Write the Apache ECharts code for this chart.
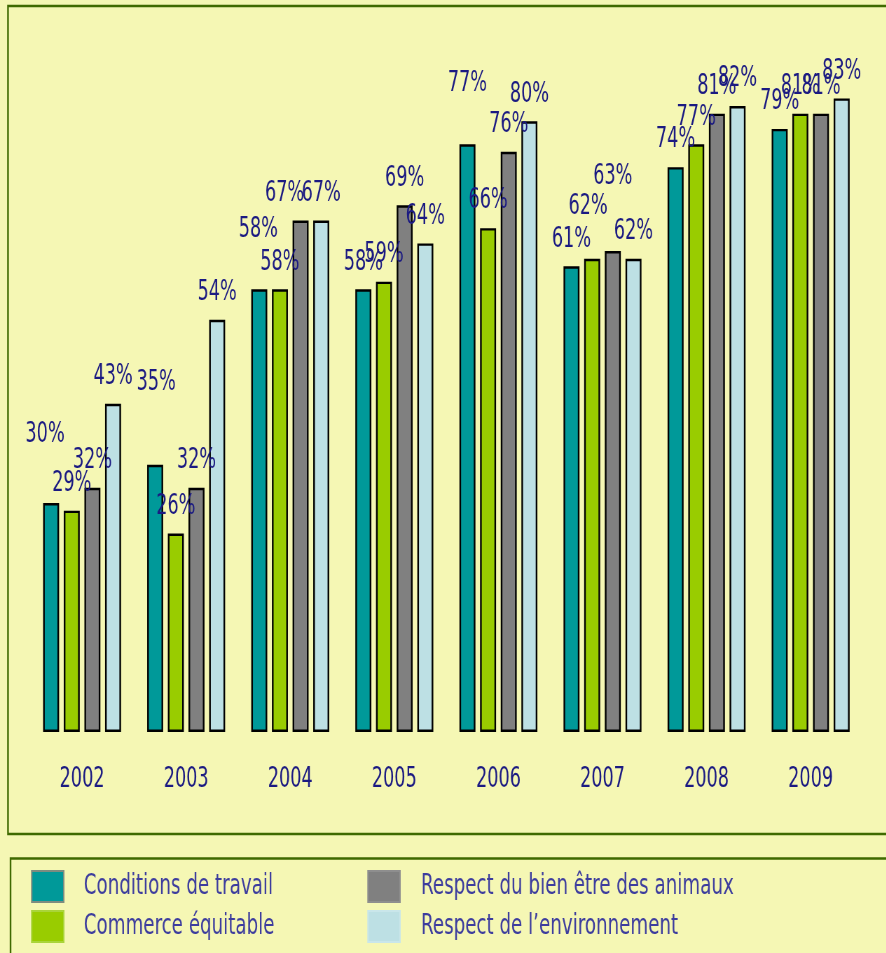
<!DOCTYPE html>
<html>
<head>
<meta charset="utf-8">
<script src="https://cdn.jsdelivr.net/npm/echarts@6/dist/echarts.min.js"></script>
<style>
html,body{margin:0;padding:0;background:#f5f7b4;overflow:hidden;width:886px;height:953px;}
#chart{height:953px;transform-origin:0 0;}
</style>
</head>
<body>
<div id="chart"></div>
<script>
// ---- data ----
const years = ['2002','2003','2004','2005','2006','2007','2008','2009'];
const seriesNames = ['Conditions de travail','Commerce équitable','Respect du bien être des animaux','Respect de l\u2019environnement'];
const conditionsTravail = [30, 35, 58, 58, 77, 61, 74, 79];
const commerceEquitable = [29, 26, 58, 59, 66, 62, 77, 81];
const bienEtreAnimaux   = [32, 32, 67, 69, 76, 63, 81, 81];
const environnement     = [43, 54, 67, 64, 80, 62, 82, 83];

// ---- styling (kept apart from data) ----
// The original uses a very condensed typeface; the chart is drawn wider and
// squeezed horizontally so that the available fonts look condensed too.
const S = 0.7;
const W = 886 / S;
const FONT = "'DejaVu Sans Condensed', 'DejaVu Sans', sans-serif";
const colors = ['#009999', '#99cc00', '#808080', '#bde0e4'];
const legendBorders = ['#7d8c80', '#a9d43a', '#8e8e8e', '#c9e6ea'];
// label nudges in screen px: key "series-year" -> [dx, dy]
const labelNudges = {
  '0-0': [-6, -41], '0-1': [1, -55], '0-2': [-1, -33], '0-4': [0, -34],
  '2-2': [-16, 0], '1-5': [-4, -25], '2-5': [0, -47]
};

const allValues = [conditionsTravail, commerceEquitable, bienEtreAnimaux, environnement];

const el = document.getElementById('chart');
el.style.width = W + 'px';
el.style.transform = 'scaleX(' + S + ')';
const chart = echarts.init(el, null, {renderer: 'canvas', width: W, height: 953});

const series = allValues.map((vals, si) => ({
  name: seriesNames[si],
  type: 'bar',
  barWidth: 16 / S,
  barGap: '29%',
  itemStyle: { color: colors[si], borderColor: '#000', borderWidth: 2.4 },
  label: {
    show: true, position: 'top', distance: 13,
    formatter: '{c}%', color: '#1b1a82', fontSize: 28, lineHeight: 28, fontFamily: FONT
  },
  data: vals.map((v, yi) => {
    const n = labelNudges[si + '-' + yi];
    return n ? { value: v, label: { offset: [n[0] / S, n[1]] } } : v;
  })
}));

const legendText = { color: '#3d3d9e', fontSize: 29, lineHeight: 31, fontFamily: FONT };
function legendData(idx, pad) {
  return idx.map(i => ({
    name: seriesNames[i],
    itemStyle: { color: colors[i], borderColor: legendBorders[i], borderWidth: 2 },
    textStyle: Object.assign({}, legendText, { padding: [0, 0, 0, pad] })
  }));
}

chart.setOption({
  backgroundColor: '#f5f7b4',
  animation: false,
  grid: { left: 30 / S, right: 24 / S, top: 45, bottom: 221, containLabel: false },
  xAxis: {
    type: 'category', data: years,
    axisLine: { show: false }, axisTick: { show: false },
    axisLabel: { color: '#1b1a82', fontSize: 28, fontFamily: FONT, margin: 34 }
  },
  yAxis: { type: 'value', min: 0, max: 90, show: false, splitLine: { show: false } },
  legend: [
    { orient: 'vertical', left: 31 / S, top: 870, padding: 0, itemWidth: 32 / S, itemHeight: 31, itemGap: 7,
      icon: 'rect', selectedMode: false, textStyle: legendText, data: legendData([0, 1], (83 - 31 - 32) / S - 5) },
    { orient: 'vertical', left: 367 / S, top: 870, padding: 0, itemWidth: 32 / S, itemHeight: 31, itemGap: 7,
      icon: 'rect', selectedMode: false, textStyle: legendText, data: legendData([2, 3], (420 - 367 - 32) / S - 5) }
  ],
  graphic: [
    { type: 'rect', shape: { x: 8 / S, y: 6, width: 1400, height: 828 }, style: { fill: 'none', stroke: '#3f6a00', lineWidth: 2.4 }, z: -1 },
    { type: 'rect', shape: { x: 10.5 / S, y: 858.5, width: 1400, height: 200 }, style: { fill: 'none', stroke: '#3f6a00', lineWidth: 2.4 }, z: -1 }
  ],
  series: series
});
</script>
</body>
</html>
